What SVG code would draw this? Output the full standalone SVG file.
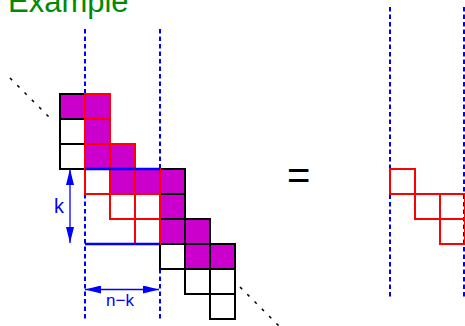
<svg xmlns="http://www.w3.org/2000/svg" width="465" height="326" viewBox="0 0 465 326">
<style>
  .bk { fill: #ffffff; stroke: #000000; stroke-width: 2; }
  .bkm { fill: #cc00cc; stroke: #000000; stroke-width: 2; }
  .rd { fill: #ffffff; stroke: #ff0000; stroke-width: 2; }
  .rdm { fill: #cc00cc; stroke: #ff0000; stroke-width: 2; }
  .rdo { fill: none; stroke: #ff0000; stroke-width: 2; }
  .dash { stroke: #0000ff; stroke-width: 2; stroke-dasharray: 4.5 3; fill: none; }
  .bline { stroke: #0000ff; stroke-width: 2.5; fill: none; }
  .arr { stroke: #0000ff; stroke-width: 1.3; fill: none; marker-start: url(#ah); marker-end: url(#ah); }
  .dots { stroke: #000000; stroke-width: 1.5; stroke-dasharray: 3 7.3; fill: none; }
  .lbl { font-family: "Liberation Sans", Arial, sans-serif; fill: #0000ff; }
</style>
<defs>
  <marker id="ah" viewBox="0 0 16 8" refX="16" refY="4" markerWidth="16" markerHeight="8" markerUnits="userSpaceOnUse" orient="auto-start-reverse">
    <path d="M0,0 L16,4 L0,8 z" fill="#0000ff"/>
  </marker>
</defs>

<text id="title" x="8" y="12" font-family="Liberation Sans, Arial, sans-serif" font-size="31" fill="#008a00">Example</text>

<g id="guides">
  <line class="dash" x1="85" y1="29" x2="85" y2="319"/>
  <line class="dash" x1="160" y1="29" x2="160" y2="319"/>
  <line class="dash" x1="390" y1="7" x2="390" y2="297"/>
  <line class="dash" x1="464" y1="7" x2="464" y2="297"/>
</g>

<g id="dotted">
  <line class="dots" x1="10" y1="78" x2="52" y2="120"/>
  <line class="dots" x1="240" y1="287" x2="282" y2="329"/>
</g>

<g id="left-matrix">
  <g id="black-cells">
    <rect class="bkm" x="60" y="94" width="25" height="25"/>
    <rect class="bk" x="60" y="119" width="25" height="25"/>
    <rect class="bk" x="60" y="144" width="25" height="25"/>
    <rect class="bkm" x="160" y="169" width="25" height="25"/>
    <rect class="bkm" x="160" y="194" width="25" height="25"/>
    <rect class="bkm" x="160" y="219" width="25" height="25"/>
    <rect class="bkm" x="185" y="219" width="25" height="25"/>
    <rect class="bk" x="160" y="244" width="25" height="25"/>
    <rect class="bkm" x="185" y="244" width="25" height="25"/>
    <rect class="bkm" x="210" y="244" width="25" height="25"/>
    <rect class="bk" x="185" y="269" width="25" height="25"/>
    <rect class="bk" x="210" y="269" width="25" height="25"/>
    <rect class="bk" x="210" y="294" width="25" height="25"/>
  </g>
  <g id="red-cells">
    <rect class="rdm" x="85" y="94" width="25" height="25"/>
    <rect class="rdm" x="85" y="119" width="25" height="25"/>
    <rect class="rdm" x="85" y="144" width="25" height="25"/>
    <rect class="rdm" x="110" y="144" width="25" height="25"/>
    <rect class="rd" x="85" y="169" width="25" height="25"/>
    <rect class="rdm" x="110" y="169" width="25" height="25"/>
    <rect class="rdm" x="135" y="169" width="25" height="25"/>
    <rect class="rd" x="110" y="194" width="25" height="25"/>
    <rect class="rd" x="135" y="194" width="25" height="25"/>
    <rect class="rd" x="135" y="219" width="25" height="25"/>
  </g>
</g>

<g id="right-matrix">
  <rect class="rdo" x="390" y="169" width="25" height="25"/>
  <rect class="rdo" x="415" y="194" width="25" height="25"/>
  <rect class="rdo" x="440" y="194" width="25" height="25"/>
  <rect class="rdo" x="440" y="219" width="25" height="25"/>
</g>

<g id="connectors">
  <line class="bline" x1="85" y1="169" x2="160" y2="169"/>
  <line class="bline" x1="85" y1="244" x2="160" y2="244"/>
  <line class="arr" x1="70" y1="169" x2="70" y2="243"/>
  <line class="arr" x1="85" y1="289.5" x2="159" y2="289.5"/>
</g>

<g id="labels">
  <text class="lbl" x="54" y="213" font-size="20">k</text>
  <text class="lbl" x="120" y="306" font-size="17" text-anchor="middle">n−k</text>
  <text id="equals" x="287" y="189" font-family="Liberation Sans, Arial, sans-serif" font-size="40" fill="#000000">=</text>
</g>
</svg>
